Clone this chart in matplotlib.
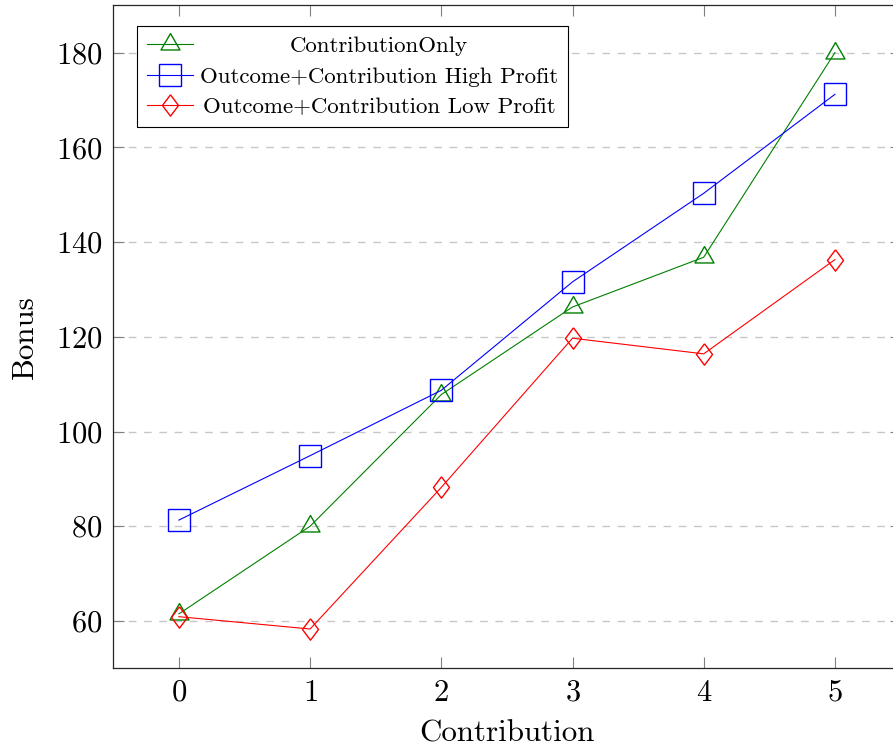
import matplotlib
matplotlib.use("Agg")
import matplotlib.pyplot as plt
from matplotlib.transforms import Affine2D

plt.rcParams['font.family'] = ['cmr10', 'DejaVu Serif']
plt.rcParams['mathtext.fontset'] = 'cm'
plt.rcParams['axes.formatter.use_mathtext'] = True

contribution = [0, 1, 2, 3, 4, 5]
contribution_only = [61.5, 80, 107.8, 126.3, 136.8, 180]
high_profit = [81.3, 94.9, 108.7, 131.6, 150.3, 171.2]
low_profit = [60.9, 58.3, 88.2, 119.7, 116.4, 136.3]
series_labels = ["ContributionOnly",
                 "Outcome+Contribution High Profit",
                 "Outcome+Contribution Low Profit"]
y_ticks = [60, 80, 100, 120, 140, 160, 180]
x_ticks = [0, 1, 2, 3, 4, 5]

tri = [(0, 1), (-0.866, -0.5), (0.866, -0.5), (0, 1)]
dia = [(0, 1), (0.75, 0), (0, -1), (-0.75, 0), (0, 1)]

fig = plt.figure(figsize=(8.93, 7.51), dpi=100)
ax = fig.add_axes([113.3 / 893, 82.7 / 751, 787.2 / 893, 663.0 / 751])

green = (0, 0.5, 0)
lw = 0.8
ax.plot(contribution, contribution_only, color=green, lw=lw, marker=tri,
        markersize=15.8, markerfacecolor='none', markeredgecolor=green,
        markeredgewidth=1.0, label=series_labels[0], zorder=3)
ax.plot(contribution, high_profit, color='blue', lw=lw, marker='s',
        markersize=15.4, markerfacecolor='none', markeredgecolor='blue',
        markeredgewidth=1.0, label=series_labels[1], zorder=3)
ax.plot(contribution, low_profit, color='red', lw=lw, marker=dia,
        markersize=15.4, markerfacecolor='none', markeredgecolor='red',
        markeredgewidth=1.0, label=series_labels[2], zorder=3)

ax.set_xlim(-0.5, 5.5)
ax.set_ylim(50, 190)
ax.set_xticks(x_ticks)
ax.set_yticks(y_ticks)
ax.yaxis.grid(True, color=(0.78, 0.78, 0.78), lw=1.0, dashes=(5.5, 5.5))
ax.set_axisbelow(True)
ax.tick_params(direction='in', length=8, width=0.8, color=(0.5, 0.5, 0.5),
               top=True, right=True, labelsize=22, pad=8, labelcolor='black')
for s in ax.spines.values():
    s.set_color((0.15, 0.15, 0.15))
    s.set_linewidth(0.9)

ax.set_xlabel("Contribution", fontsize=22.3, labelpad=9)
ax.set_ylabel("Bonus", fontsize=22.3, labelpad=12)

leg = ax.legend(loc='upper left', bbox_to_anchor=(0.030, 0.969),
                borderaxespad=0, fontsize=16.5, handlelength=2.0,
                handletextpad=0.3, borderpad=0.45, labelspacing=0.45,
                fancybox=False, shadow=False, framealpha=1,
                edgecolor='black')
leg.get_frame().set_linewidth(0.8)

# center legend texts within the text column (pgfplots style)
fig.canvas.draw()
r = fig.canvas.get_renderer()
widths = [t.get_window_extent(r).width for t in leg.texts]
wmax = max(widths)
for t, w in zip(leg.texts, widths):
    dx = (wmax - w) / 2
    if dx > 0:
        t.set_transform(t.get_transform() + Affine2D().translate(dx, 0))

fig.savefig("out.png", dpi=100)
